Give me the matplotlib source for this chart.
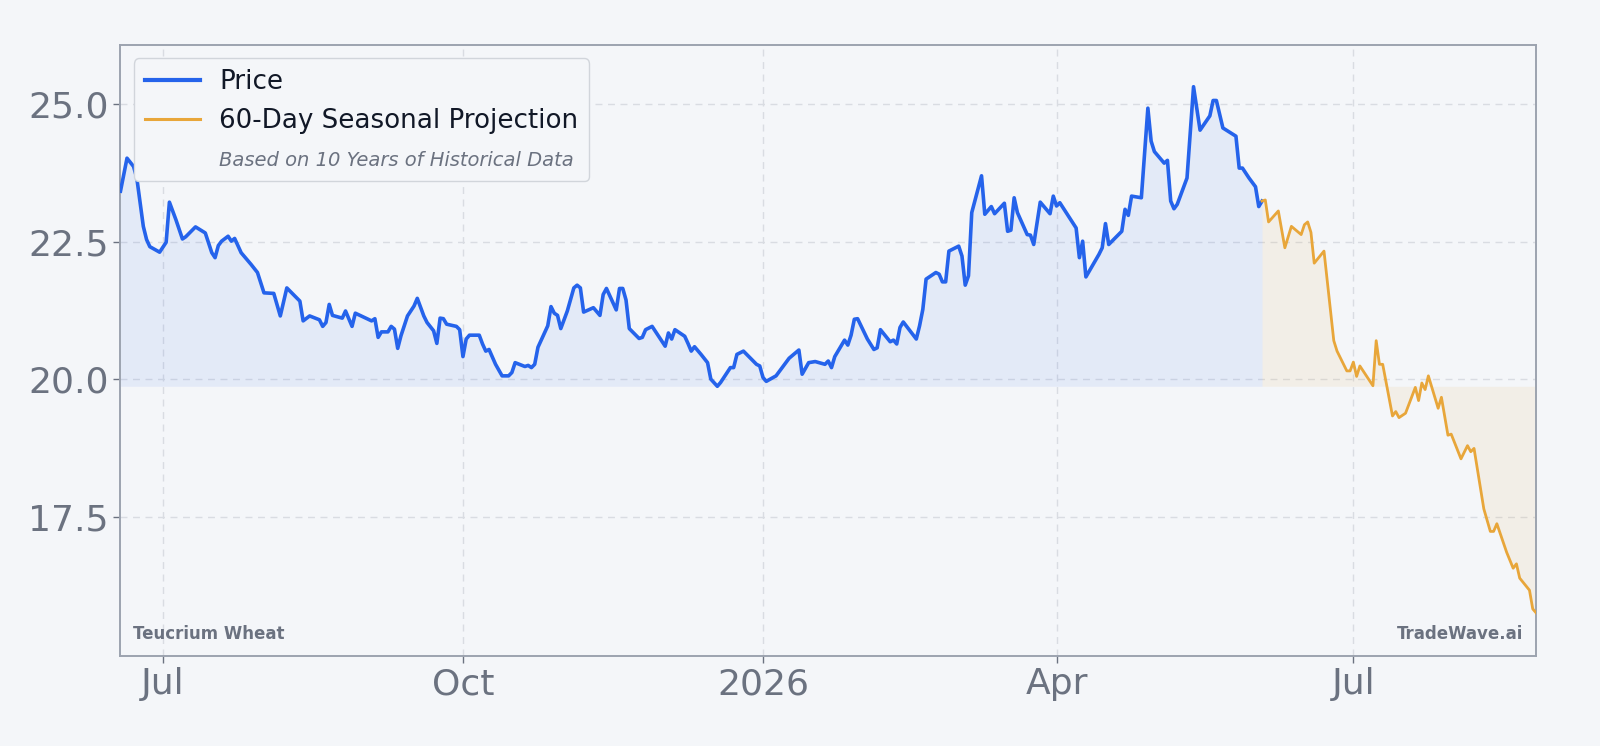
import matplotlib
matplotlib.use('Agg')
import matplotlib.pyplot as plt
from matplotlib.lines import Line2D
import pandas as pd

# day offsets from 1 Jul 2025
ref_day = pd.Timestamp('2025-07-01')

price_days = [-13, -11, -9, -8, -6, -5, -4, -1, 1, 2,
              4, 6, 7, 10, 13, 15, 16, 17, 18, 20,
              21, 22, 24, 27, 29, 31, 34, 36, 38, 42,
              43, 45, 48, 49, 50, 51, 52, 55, 56, 58,
              59, 64, 65, 66, 67, 69, 70, 71, 72, 73,
              75, 77, 78, 80, 81, 83, 84, 85, 86, 87,
              90, 91, 92, 93, 94, 97, 98, 99, 100, 102,
              104, 106, 107, 108, 111, 112, 113, 114, 115, 118,
              119, 120, 121, 122, 124, 126, 127, 128, 129, 132,
              134, 135, 136, 139, 140, 141, 142, 143, 146, 147,
              148, 150, 154, 155, 156, 157, 160, 161, 162, 163,
              165, 167, 168, 170, 171, 174, 175, 176, 178, 182,
              183, 184, 185, 188, 191, 192, 195, 196, 198, 200,
              203, 204, 205, 206, 209, 210, 211, 212, 213, 216,
              218, 219, 220, 223, 224, 225, 226, 227, 231, 232,
              233, 234, 237, 238, 239, 240, 241, 244, 245, 246,
              247, 248, 251, 252, 254, 255, 258, 259, 260, 261,
              262, 265, 266, 267, 269, 272, 273, 274, 275, 280,
              281, 282, 283, 287, 288, 289, 290, 294, 295, 296,
              297, 300, 302, 303, 304, 307, 308, 309, 310, 311,
              314, 316, 318, 321, 322, 323, 325, 329, 330, 331,
              333, 335, 336, 337]
price_vals = [23.42, 24.02, 23.87, 23.66, 22.78, 22.54, 22.41, 22.31, 22.49, 23.22,
              22.90, 22.55, 22.59, 22.77, 22.66, 22.30, 22.21, 22.43, 22.51, 22.60,
              22.51, 22.56, 22.30, 22.09, 21.94, 21.57, 21.56, 21.15, 21.66, 21.42,
              21.06, 21.15, 21.08, 20.96, 21.03, 21.36, 21.16, 21.11, 21.24, 20.96,
              21.20, 21.06, 21.10, 20.76, 20.86, 20.86, 20.96, 20.91, 20.56, 20.79,
              21.15, 21.33, 21.47, 21.15, 21.03, 20.88, 20.65, 21.11, 21.10, 21.00,
              20.96, 20.90, 20.41, 20.73, 20.80, 20.80, 20.64, 20.51, 20.54, 20.27,
              20.06, 20.06, 20.12, 20.30, 20.23, 20.25, 20.21, 20.27, 20.58, 20.97,
              21.32, 21.20, 21.16, 20.92, 21.24, 21.66, 21.71, 21.66, 21.22, 21.30,
              21.16, 21.54, 21.65, 21.26, 21.65, 21.65, 21.44, 20.92, 20.74, 20.76,
              20.90, 20.96, 20.60, 20.84, 20.73, 20.90, 20.78, 20.65, 20.51, 20.59,
              20.45, 20.30, 20.00, 19.87, 19.94, 20.21, 20.21, 20.45, 20.51, 20.27,
              20.24, 20.03, 19.96, 20.06, 20.30, 20.38, 20.53, 20.09, 20.30, 20.32,
              20.27, 20.33, 20.21, 20.41, 20.71, 20.62, 20.80, 21.09, 21.10, 20.73,
              20.54, 20.57, 20.90, 20.68, 20.71, 20.64, 20.94, 21.04, 20.73, 20.97,
              21.27, 21.82, 21.94, 21.91, 21.77, 21.77, 22.33, 22.42, 22.24, 21.71,
              21.88, 23.03, 23.70, 23.00, 23.14, 23.01, 23.20, 22.69, 22.71, 23.30,
              23.03, 22.63, 22.62, 22.45, 23.22, 23.01, 23.33, 23.15, 23.21, 22.75,
              22.21, 22.51, 21.86, 22.27, 22.39, 22.83, 22.45, 22.69, 23.09, 22.98,
              23.33, 23.30, 24.93, 24.33, 24.14, 23.93, 23.98, 23.24, 23.10, 23.18,
              23.66, 25.32, 24.53, 24.79, 25.07, 25.07, 24.57, 24.42, 23.84, 23.84,
              23.66, 23.50, 23.14, 23.24]

proj_days = [337, 338, 339, 342, 344, 346, 349, 350, 351, 352,
             353, 356, 359, 360, 363, 364, 365, 366, 367, 371,
             372, 373, 374, 377, 378, 379, 381, 384, 385, 386,
             387, 388, 391, 392, 394, 395, 398, 400, 401, 402,
             405, 407, 408, 409, 412, 414, 415, 416, 419, 420, 421]
proj_vals = [23.24, 23.26, 22.86, 23.06, 22.39, 22.78, 22.63, 22.81, 22.86, 22.67,
             22.11, 22.33, 20.70, 20.51, 20.15, 20.15, 20.31, 20.05, 20.24, 19.88,
             20.70, 20.27, 20.27, 19.33, 19.41, 19.30, 19.38, 19.85, 19.61, 19.93,
             19.81, 20.06, 19.47, 19.67, 18.98, 19.00, 18.55, 18.79, 18.68, 18.74,
             17.64, 17.23, 17.23, 17.37, 16.85, 16.56, 16.64, 16.38, 16.16, 15.82, 15.75]

tick_dates = ['2025-07-01', '2025-10-01', '2026-01-01', '2026-04-01', '2026-07-01']
tick_labels = ['Jul', 'Oct', '2026', 'Apr', 'Jul']
y_ticks = [17.5, 20.0, 22.5, 25.0]

bg = '#f4f6f9'
blue = '#2563eb'
orange = '#e8a63a'
grey = '#6b7280'

price_x = ref_day + pd.to_timedelta(price_days, unit='D')
proj_x = ref_day + pd.to_timedelta(proj_days, unit='D')
baseline = min(price_vals)

fig = plt.figure(figsize=(16, 7.46), dpi=100, facecolor=bg)
ax = fig.add_axes([0.0753, 0.1206, 0.8847, 0.8191])
ax.set_facecolor(bg)

ax.fill_between(price_x, price_vals, baseline, color=blue, alpha=0.08, lw=0)
ax.fill_between(proj_x, proj_vals, baseline, color=orange, alpha=0.09, lw=0)
ax.plot(price_x, price_vals, color=blue, lw=2.6, label='Price', zorder=3)
ax.plot(proj_x, proj_vals, color=orange, lw=2.0, label='60-Day Seasonal Projection', zorder=3)

ax.set_xlim(price_x[0], proj_x[-1])
lo = min(min(price_vals), min(proj_vals))
hi = max(max(price_vals), max(proj_vals))
ax.set_ylim(lo * 0.95, hi * 1.03)

ax.set_xticks(pd.to_datetime(tick_dates))
ax.set_xticklabels(tick_labels)
ax.set_yticks(y_ticks)
ax.set_yticklabels([f'{v:.1f}' for v in y_ticks])
ax.tick_params(axis='both', labelsize=26, colors=grey, length=5, width=1)
ax.tick_params(axis='x', pad=3)
for lab in ax.get_xticklabels() + ax.get_yticklabels():
    lab.set_color(grey)

ax.grid(True, linestyle=(0, (5, 4)), color='#d9dce2', lw=1)
ax.set_axisbelow(True)
for s in ax.spines.values():
    s.set_color('#9ca3af')
    s.set_linewidth(1.4)

handles = [Line2D([], [], color=blue, lw=3),
           Line2D([], [], color=orange, lw=2.2),
           Line2D([], [], color='none')]
labels = ['Price', '60-Day Seasonal Projection', 'Based on 10 Years of Historical Data']
leg = ax.legend(handles, labels, loc='upper left', bbox_to_anchor=(0.0094, 0.978),
                borderaxespad=0, fontsize=18.8, frameon=True, facecolor=bg,
                edgecolor='#d1d5db', framealpha=1, handlelength=2.1,
                handletextpad=0.75, borderpad=0.42, labelspacing=0.5)
leg.get_frame().set_linewidth(1)
for t in leg.get_texts()[:2]:
    t.set_color('#111827')
sub = leg.get_texts()[2]
sub.set_fontstyle('italic')
sub.set_fontsize(14)
sub.set_color(grey)

ax.text(0.009, 0.022, 'Teucrium Wheat', transform=ax.transAxes, fontsize=12,
        fontweight='bold', color=grey, ha='left', va='bottom')
ax.text(0.991, 0.022, 'TradeWave.ai', transform=ax.transAxes, fontsize=12,
        fontweight='bold', color=grey, ha='right', va='bottom')

fig.savefig('out.png', dpi=100, facecolor=bg)
